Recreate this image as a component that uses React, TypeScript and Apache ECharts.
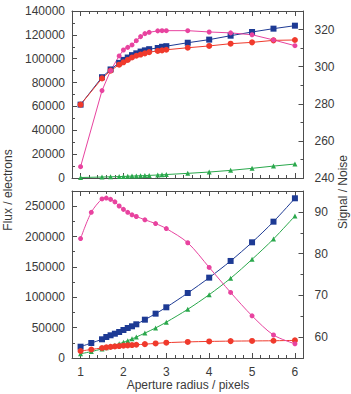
import React, { useEffect, useRef } from "react";
import * as echarts from "echarts";

// Aperture radii (pixels) sampled in each panel
const radiusTop = [1, 1.5, 1.7, 1.9, 2.0, 2.1, 2.2, 2.3, 2.4, 2.5, 2.6, 2.8, 2.9, 3.0, 3.5, 4, 4.5, 5, 5.5, 6];
const radiusBottom = [1, 1.25, 1.5, 1.6, 1.7, 1.8, 1.9, 2.0, 2.1, 2.2, 2.3, 2.5, 2.75, 3.0, 3.5, 4, 4.5, 5, 5.5, 6];

// Upper panel: flux (electrons) and signal-to-noise
const topFluxBlue = [61500, 84500, 91000, 96500, 99000, 101000, 103000, 104500, 106000, 107000, 108000, 109000, 110000, 110500, 113400, 116000, 119300, 122400, 125200, 127700];
const topFluxRed = [61500, 83500, 90000, 95000, 97000, 99000, 101000, 102500, 103500, 104500, 105500, 106500, 107000, 107500, 109200, 110700, 112600, 113700, 115400, 115700];
const topFluxGreen = [400, 800, 1000, 1200, 1300, 1450, 1600, 1750, 1900, 2000, 2200, 2500, 2700, 2900, 3900, 5000, 6400, 8100, 10000, 11700];
const topSnr = [246.1, 287.1, 297.9, 305.8, 309.0, 310.4, 311.7, 314.0, 316.2, 317.8, 318.5, 319.3, 319.4, 319.4, 319.4, 318.7, 318.2, 317.2, 314.4, 311.3];

// Lower panel: flux (electrons) and signal-to-noise
const botFluxBlue = [18600, 24700, 30800, 34600, 37400, 40000, 42800, 46100, 49400, 52200, 55500, 63100, 73000, 83500, 107000, 132300, 159800, 190500, 224500, 263000];
const botFluxRed = [11500, 14000, 16500, 17500, 18300, 19000, 19700, 20300, 20800, 21300, 21800, 22800, 24000, 25200, 26500, 27300, 27800, 28100, 28400, 29000];
const botFluxGreen = [7000, 10500, 15000, 17000, 19000, 21000, 23500, 26000, 28500, 31500, 34500, 41000, 49500, 59000, 80200, 104300, 131300, 162500, 196000, 233900];
const botSnr = [83.6, 89.9, 93.1, 93.3, 93.0, 92.4, 91.4, 90.6, 89.9, 89.3, 88.9, 88.1, 87.2, 86.0, 82.6, 76.7, 70.7, 65.1, 60.5, 58.4];

// Tick positions
const xMajor = [1, 2, 3, 4, 5, 6];
const xMinor = [0.8, 1.2, 1.4, 1.6, 1.8, 2.2, 2.4, 2.6, 2.8, 3.2, 3.4, 3.6, 3.8, 4.2, 4.4, 4.6, 4.8, 5.2, 5.4, 5.6, 5.8, 6.2];
const topLeftMajor = [0, 20000, 40000, 60000, 80000, 100000, 120000, 140000];
const topLeftMinor = [10000, 30000, 50000, 70000, 90000, 110000, 130000];
const topRightMajor = [240, 260, 280, 300, 320];
const topRightMinor = [250, 270, 290, 310, 330];
const botLeftMajor = [0, 50000, 100000, 150000, 200000, 250000];
const botLeftMinor = [25000, 75000, 125000, 175000, 225000, 275000];
const botRightMajor = [60, 70, 80, 90];
const botRightMinor = [55, 65, 75, 85, 95];

const FONT = "'Liberation Sans', Arial, Helvetica, sans-serif";
const FRAME = "#4d4d4d";
const TEXT = "#3a3a3a";

const BLUE = "#1d3a94";
const RED = "#f03a2c";
const GREEN = "#2aa84c";
const PINK = "#e8439f";

const pairs = (xs: number[], ys: number[]) => xs.map((x, i) => [x, ys[i]]);
const plain = (v: number) => String(v);

function xAxes(gridIndex: number, withLabels: boolean) {
  const base = { type: "value", gridIndex, min: 0.8, max: 6.2, splitLine: { show: false } };
  const major = (position: string, labels: boolean) => ({
    ...base,
    position,
    axisLine: { show: true, lineStyle: { color: FRAME, width: 1 } },
    axisTick: { show: true, inside: true, length: 5, customValues: xMajor, lineStyle: { color: FRAME } },
    axisLabel: {
      show: labels,
      customValues: xMajor,
      formatter: plain,
      margin: 8,
      color: TEXT,
      fontFamily: FONT,
      fontSize: 12,
    },
  });
  const minor = (position: string) => ({
    ...base,
    position,
    axisLine: { show: false },
    axisTick: { show: true, inside: true, length: 3, customValues: xMinor, lineStyle: { color: FRAME } },
    axisLabel: { show: false },
  });
  return [major("bottom", withLabels), minor("bottom"), major("top", false), minor("top")];
}

function yAxes(
  gridIndex: number,
  position: string,
  min: number,
  max: number,
  majors: number[],
  minors: number[],
  margin: number
) {
  const base = { type: "value", gridIndex, position, min, max, splitLine: { show: false } };
  return [
    {
      ...base,
      axisLine: { show: true, lineStyle: { color: FRAME, width: 1 } },
      axisTick: { show: true, inside: true, length: 5, customValues: majors, lineStyle: { color: FRAME } },
      axisLabel: {
        show: true,
        customValues: majors,
        formatter: plain,
        margin,
        color: TEXT,
        fontFamily: FONT,
        fontSize: 12,
      },
    },
    {
      ...base,
      axisLine: { show: false },
      axisTick: { show: true, inside: true, length: 3, customValues: minors, lineStyle: { color: FRAME } },
      axisLabel: { show: false },
    },
  ];
}

function line(
  name: string,
  data: number[][],
  xAxisIndex: number,
  yAxisIndex: number,
  color: string,
  symbol: string,
  symbolSize: number,
  smooth: boolean | number
) {
  return {
    name,
    type: "line",
    data,
    xAxisIndex,
    yAxisIndex,
    symbol,
    symbolSize,
    smooth,
    itemStyle: { color },
    lineStyle: { color, width: 1 },
  };
}

export default function App() {
  const ref = useRef<HTMLDivElement>(null);

  useEffect(() => {
    if (!ref.current) return;
    const chart = echarts.init(ref.current, null, { renderer: "svg" });

    const option = {
      animation: false,
      backgroundColor: "#ffffff",
      grid: [
        { left: 72, top: 11, width: 231.5, height: 167 },
        { left: 72, top: 191, width: 231.5, height: 167 },
      ],
      xAxis: [...xAxes(0, false), ...xAxes(1, true)],
      yAxis: [
        ...yAxes(0, "left", 0, 140000, topLeftMajor, topLeftMinor, 7),
        ...yAxes(0, "right", 240, 330, topRightMajor, topRightMinor, 11),
        ...yAxes(1, "left", 0, 275000, botLeftMajor, botLeftMinor, 7),
        ...yAxes(1, "right", 55, 95, botRightMajor, botRightMinor, 11),
      ],
      series: [
        line("Flux A (top)", pairs(radiusTop, topFluxBlue), 0, 0, BLUE, "rect", 6, false),
        line("Flux C (top)", pairs(radiusTop, topFluxGreen), 0, 0, GREEN, "triangle", 5, false),
        line("Flux B (top)", pairs(radiusTop, topFluxRed), 0, 0, RED, "circle", 6, false),
        line("S/N (top)", pairs(radiusTop, topSnr), 0, 2, PINK, "circle", 5, false),
        line("Flux A (bottom)", pairs(radiusBottom, botFluxBlue), 4, 4, BLUE, "rect", 6, 0.3),
        line("Flux C (bottom)", pairs(radiusBottom, botFluxGreen), 4, 4, GREEN, "triangle", 5, 0.3),
        line("Flux B (bottom)", pairs(radiusBottom, botFluxRed), 4, 4, RED, "circle", 6, 0.3),
        line("S/N (bottom)", pairs(radiusBottom, botSnr), 4, 6, PINK, "circle", 5, 0.3),
      ],
      graphic: [
        {
          type: "text",
          x: 8,
          y: 190,
          rotation: Math.PI / 2,
          style: {
            text: "Flux / electrons",
            fill: TEXT,
            font: `12px ${FONT}`,
            textAlign: "center",
            textVerticalAlign: "middle",
          },
        },
        {
          type: "text",
          x: 343,
          y: 192,
          rotation: Math.PI / 2,
          style: {
            text: "Signal / Noise",
            fill: TEXT,
            font: `12px ${FONT}`,
            textAlign: "center",
            textVerticalAlign: "middle",
          },
        },
        {
          type: "text",
          x: 188,
          y: 385,
          style: {
            text: "Aperture radius / pixels",
            fill: TEXT,
            font: `12px ${FONT}`,
            textAlign: "center",
            textVerticalAlign: "middle",
          },
        },
      ],
    };

    chart.setOption(option as any);
    return () => chart.dispose();
  }, []);

  return (
    <div
      ref={ref}
      style={{ position: "absolute", left: 0, top: 0, width: 351, height: 394 }}
    />
  );
}
